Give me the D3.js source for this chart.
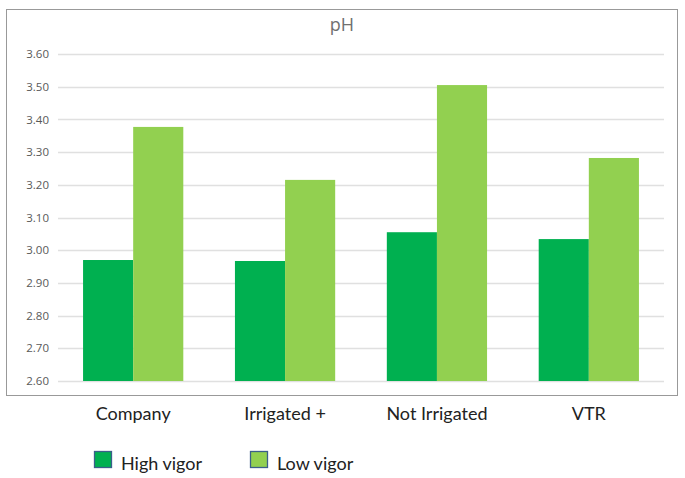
<!DOCTYPE html>
<html><head><meta charset="utf-8">
<script src="https://cdn.jsdelivr.net/npm/d3@7"></script>
<style>html,body{margin:0;padding:0;background:#fff;}svg{display:block;}</style>
</head><body>
<script>
const categories = ["Company", "Irrigated +", "Not Irrigated", "VTR"];
const seriesNames = ["High vigor", "Low vigor"];
const highVigor = [2.97, 2.967, 3.055, 3.034];
const lowVigor = [3.377, 3.215, 3.505, 3.282];
const yTicks = [2.6, 2.7, 2.8, 2.9, 3.0, 3.1, 3.2, 3.3, 3.4, 3.5, 3.6];
const colors = ["#00B050", "#92D050"];

const W = 685, H = 478;
const svg = d3.select("body").append("svg").attr("width", W).attr("height", H);

// outer frame
svg.append("rect").attr("x", 6.5).attr("y", 9.5).attr("width", 671).attr("height", 386)
  .attr("fill", "none").attr("stroke", "#999").attr("stroke-width", 1);

const x0 = d3.scaleBand().domain(categories).range([58, 664]).paddingInner(0.34).paddingOuter(0.165);
const x1 = d3.scaleBand().domain(seriesNames).range([0, x0.bandwidth()]);
const y = d3.scaleLinear().domain([2.6, 3.6]).range([381, 54]);

// grid
svg.append("g").selectAll("line").data(yTicks).join("line")
  .attr("x1", 58).attr("x2", 664)
  .attr("y1", d => Math.round(y(d)) + 0.5).attr("y2", d => Math.round(y(d)) + 0.5)
  .attr("stroke", "#e0e0e0").attr("stroke-width", 1.5);

// y axis labels
const yAxis = d3.axisLeft(y).tickValues(yTicks).tickFormat(d3.format(".2f")).tickSize(0).tickPadding(0);
const gy = svg.append("g").attr("transform", "translate(49,0)").call(yAxis);
gy.select(".domain").remove();
gy.selectAll("text").attr("fill", "#595959").style("font-family", "'Open Sans', sans-serif").style("font-size", "11.5px");

// bars
const rows = categories.map((c, i) => ({cat: c, vals: [highVigor[i], lowVigor[i]]}));
const g = svg.append("g");
rows.forEach(r => {
  r.vals.forEach((v, j) => {
    g.append("rect")
      .attr("x", x0(r.cat) + x1(seriesNames[j]))
      .attr("width", x1.bandwidth())
      .attr("y", y(v))
      .attr("height", y(2.6) - y(v))
      .attr("fill", colors[j]);
  });
});

// category labels (below the frame)
const xAxis = d3.axisBottom(x0).tickSize(0).tickPadding(0);
const gx = svg.append("g").attr("transform", "translate(0,407)").call(xAxis);
gx.select(".domain").remove();
gx.selectAll("text").attr("fill", "#222").style("font-family", "Lato, sans-serif").style("font-size", "18px");

// title
svg.append("text").attr("x", 342).attr("y", 31).attr("text-anchor", "middle")
  .attr("fill", "#707070").style("font-family", "'Open Sans', sans-serif").style("font-size", "18px").text("pH");

// legend
const legX = [94, 250];
seriesNames.forEach((s, j) => {
  svg.append("rect").attr("x", legX[j] + 0.5).attr("y", 451.5).attr("width", 17).attr("height", 16)
    .attr("fill", colors[j]).attr("stroke", "#3B5F8A").attr("stroke-width", 1.3);
  svg.append("text").attr("x", legX[j] + 27).attr("y", 470).attr("fill", "#222")
    .style("font-family", "Lato, sans-serif").style("font-size", "18px").text(s);
});
</script>
</body></html>
